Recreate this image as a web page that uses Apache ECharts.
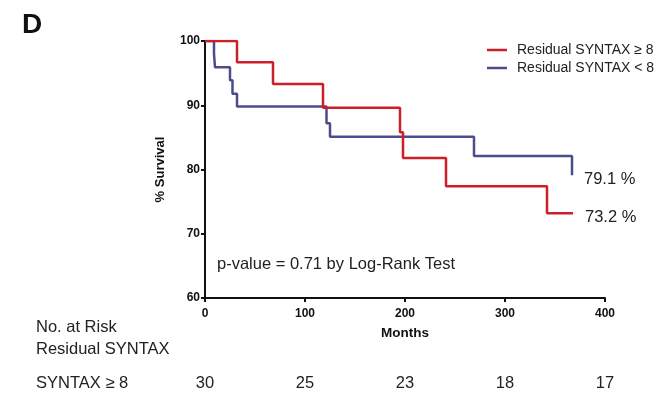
<!DOCTYPE html>
<html>
<head>
<meta charset="utf-8">
<script src="https://cdn.jsdelivr.net/npm/echarts@6/dist/echarts.min.js"></script>
<style>
  html, body { margin: 0; padding: 0; background: #fff; }
  #chart { width: 661px; height: 393px; }
</style>
</head>
<body>
<div id="chart"></div>
<script>
// Kaplan-Meier step points: [month, % survival]
const highMonths = [0, 32, 68, 118, 195, 198, 241, 342, 368];
const highSurvival = [100, 96.7, 93.3, 89.6, 85.8, 81.8, 77.4, 73.2, 73.2];
const lowMonths = [0, 9, 10, 25, 27.5, 32, 121.5, 125, 269, 367];
const lowSurvival = [100, 98.0, 95.9, 93.9, 91.8, 89.8, 87.2, 85.1, 82.1, 79.1];

const seriesNames = ['Residual SYNTAX \u2265 8', 'Residual SYNTAX < 8'];

// Number-at-risk table
const riskMonths = [0, 100, 200, 300, 400];
const riskHigh = [30, 25, 23, 18, 17];

const xTicks = [0, 100, 200, 300, 400];
const yTicks = [60, 70, 80, 90, 100];

const RED = '#cc1f28';
const BLUE = '#4c4c8c';
const FONT = '"Liberation Sans", Arial, Helvetica, sans-serif';

const zip = (a, b) => a.map((v, i) => [v, b[i]]);

const chart = echarts.init(document.getElementById('chart'));

const endLabel = (dy) => ({
  show: true,
  distance: 12,
  offset: [0, dy],
  fontFamily: FONT,
  fontSize: 16.5,
  color: '#222',
  formatter: p => p.value[1].toFixed(1) + ' %'
});

const staticText = [
  {
    type: 'text', left: 22, top: 11,
    style: { text: 'D', font: 'bold 28px ' + FONT, fill: '#111' }
  },
  {
    type: 'text', left: 217, top: 256,
    style: { text: 'p-value = 0.71 by Log-Rank Test', font: '16.5px ' + FONT, fill: '#222' }
  },
  {
    type: 'text', left: 36, top: 316,
    style: { text: 'No. at Risk\nResidual SYNTAX', font: '16.5px ' + FONT, fill: '#222', lineHeight: 22 }
  },
  {
    type: 'text', left: 36, top: 375,
    style: { text: 'SYNTAX \u2265 8', font: '16.5px ' + FONT, fill: '#222' }
  }
];

chart.setOption({
  animation: false,
  backgroundColor: '#fff',
  textStyle: { fontFamily: FONT },
  grid: { left: 205, right: 56, top: 41, bottom: 95 },
  legend: {
    orient: 'vertical',
    left: 482,
    top: 38,
    icon: 'rect',
    itemWidth: 20,
    itemHeight: 2.5,
    itemGap: 4,
    data: seriesNames,
    textStyle: { fontFamily: FONT, fontSize: 14, color: '#222', padding: [0, 0, 0, 5] }
  },
  xAxis: {
    type: 'value',
    min: xTicks[0], max: xTicks[xTicks.length - 1], interval: 100,
    name: 'Months', nameLocation: 'middle', nameGap: 28,
    nameTextStyle: { fontFamily: FONT, fontWeight: 'bold', fontSize: 13.5, color: '#111' },
    axisLine: { show: true, onZero: false, lineStyle: { color: '#111', width: 2 } },
    axisTick: { show: true, length: 4, lineStyle: { color: '#111', width: 2 } },
    axisLabel: { margin: 10, fontFamily: FONT, fontWeight: 'bold', fontSize: 12, color: '#111' },
    splitLine: { show: false }
  },
  yAxis: {
    type: 'value',
    min: yTicks[0], max: yTicks[yTicks.length - 1], interval: 10,
    name: '% Survival', nameLocation: 'middle', nameGap: 38, nameRotate: 90,
    nameTextStyle: { fontFamily: FONT, fontWeight: 'bold', fontSize: 13, color: '#111' },
    axisLine: { show: true, lineStyle: { color: '#111', width: 2 } },
    axisTick: { show: true, length: 4, lineStyle: { color: '#111', width: 2 } },
    axisLabel: { margin: 5, fontFamily: FONT, fontWeight: 'bold', fontSize: 12, color: '#111' },
    splitLine: { show: false }
  },
  series: [
    {
      name: seriesNames[0], type: 'line',
      step: 'end', symbol: 'none', z: 3,
      lineStyle: { color: RED, width: 2.5 },
      itemStyle: { color: RED },
      endLabel: endLabel(4),
      data: zip(highMonths, highSurvival)
    },
    {
      name: seriesNames[1], type: 'line',
      step: 'end', symbol: 'none', z: 2,
      lineStyle: { color: BLUE, width: 2.5 },
      itemStyle: { color: BLUE },
      endLabel: endLabel(4),
      data: zip(lowMonths, lowSurvival)
    }
  ],
  graphic: staticText
});

// Number-at-risk row, placed under the matching month on the x axis
const riskY = 383;
const riskText = riskMonths.map((m, i) => ({
  type: 'text',
  x: chart.convertToPixel({ xAxisIndex: 0 }, m),
  y: riskY,
  style: {
    text: String(riskHigh[i]),
    font: '16.5px ' + FONT,
    fill: '#222',
    align: 'center',
    verticalAlign: 'middle'
  }
}));
chart.setOption({ graphic: staticText.concat(riskText) });
</script>
</body>
</html>
